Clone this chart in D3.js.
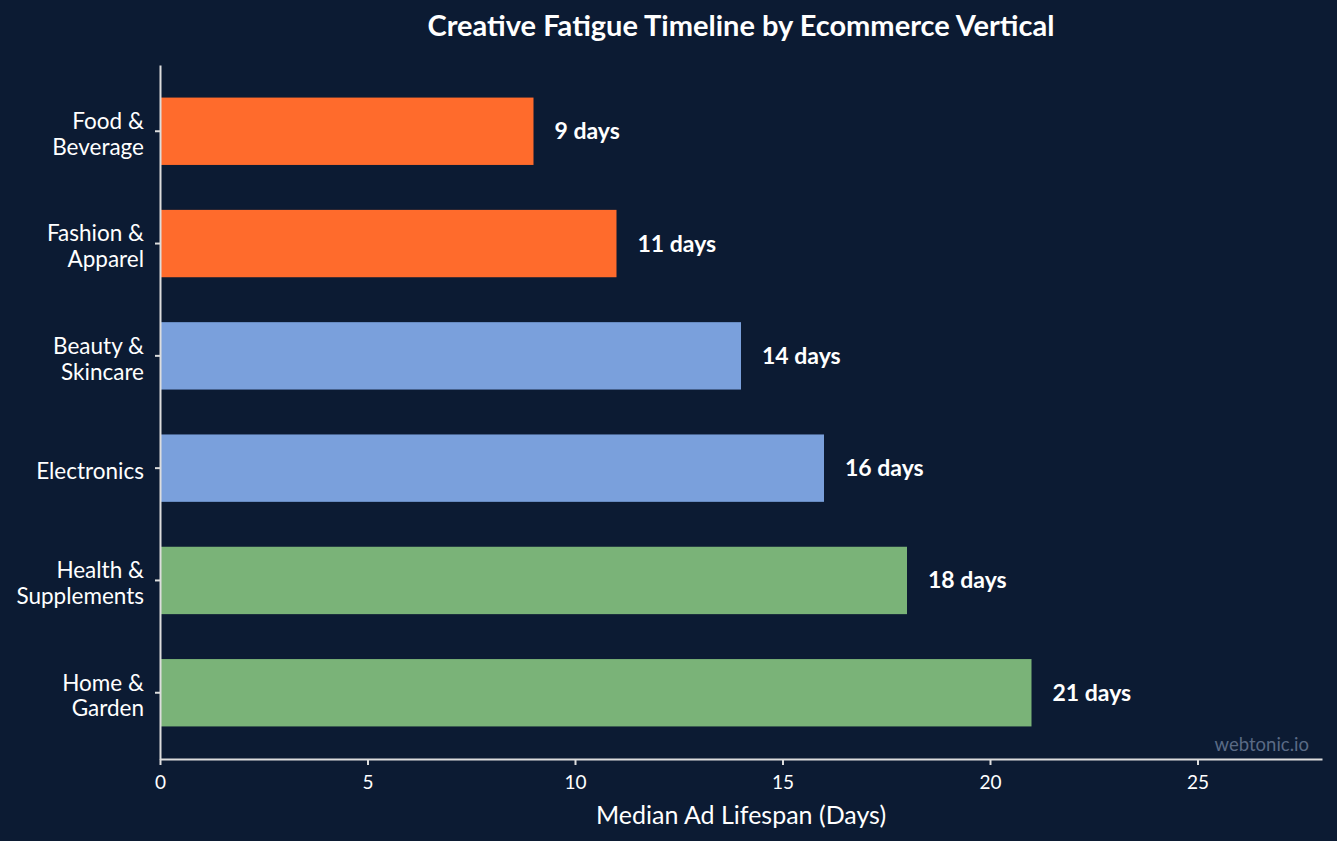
<!DOCTYPE html>
<html><head><meta charset="utf-8">
<script src="https://cdn.jsdelivr.net/npm/d3@7"></script>
<style>
html,body{margin:0;padding:0;background:#0c1b33;}
svg{display:block;font-family:Lato,"Open Sans",sans-serif;}
</style></head><body>
<svg id="c" width="1337" height="841"></svg>
<script>
const categories = ["Food & Beverage","Fashion & Apparel","Beauty & Skincare","Electronics","Health & Supplements","Home & Garden"];
const categoryLines = [["Food &","Beverage"],["Fashion &","Apparel"],["Beauty &","Skincare"],["Electronics"],["Health &","Supplements"],["Home &","Garden"]];
const values = [9, 11, 14, 16, 18, 21];
const groups = ["fast","fast","mid","mid","slow","slow"];
const xTicks = [0, 5, 10, 15, 20, 25];
const groupColors = {fast:"#ff6b2c", mid:"#7aa0dc", slow:"#7ab378"};

const svg = d3.select("#c");
svg.append("rect").attr("width",1337).attr("height",841).attr("fill","#0c1b33");
const x = d3.scaleLinear().domain([0,28]).range([160,1322]);
const y = d3.scaleBand().domain(categories).range([65,759]).paddingInner(0.4).paddingOuter(0.29);
const axisColor = "#dddddd";

svg.append("g").selectAll("rect").data(categories).join("rect")
  .attr("x", x(0)).attr("y", d=>y(d)).attr("height", y.bandwidth())
  .attr("width", (d,i)=>x(values[i])-x(0)).attr("fill",(d,i)=>groupColors[groups[i]]);

svg.append("g").selectAll("text").data(categories).join("text")
  .attr("x",(d,i)=>x(values[i])+21).attr("y",d=>y(d)+y.bandwidth()/2)
  .attr("dy","0.35em").attr("fill","#ffffff").attr("font-weight","bold").attr("font-size",23)
  .text((d,i)=>values[i]+" days");

// x axis
const gx = svg.append("g").attr("transform","translate(0,759)")
  .call(d3.axisBottom(x).tickValues(xTicks).tickSize(6).tickSizeOuter(0).tickPadding(11));
gx.select(".domain").attr("stroke",axisColor).attr("stroke-width",2);
gx.selectAll(".tick line").attr("stroke",axisColor).attr("stroke-width",2);
gx.selectAll(".tick text").attr("fill","#ffffff").attr("font-size",19).attr("font-family","Lato");

// y axis
const gy = svg.append("g").attr("transform","translate(160,0)")
  .call(d3.axisLeft(y).tickSize(5).tickSizeOuter(0).tickFormat(""));
gy.select(".domain").attr("stroke",axisColor).attr("stroke-width",2);
gy.selectAll(".tick line").attr("stroke",axisColor).attr("stroke-width",2);

const lbl = svg.append("g").selectAll("text").data(categories).join("text")
  .attr("x",144).attr("text-anchor","end").attr("fill","#ffffff").attr("font-size",22.5)
  .attr("y",d=>y(d)+y.bandwidth()/2);
lbl.each(function(d,i){
  const lines = categoryLines[i];
  const n = lines.length;
  d3.select(this).selectAll("tspan").data(lines).join("tspan")
    .attr("x",144).attr("dy",(l,j)=> j===0 ? ((0.48 - (n-1)*1.15/2)+"em") : "1.15em").text(l=>l);
});

svg.append("text").attr("x",741).attr("y",36).attr("text-anchor","middle")
  .attr("fill","#ffffff").attr("font-weight","bold").attr("font-size",29)
  .text("Creative Fatigue Timeline by Ecommerce Vertical");

svg.append("text").attr("x",741).attr("y",824).attr("text-anchor","middle")
  .attr("fill","#ffffff").attr("font-size",25).text("Median Ad Lifespan (Days)");

svg.append("text").attr("x",1309).attr("y",751).attr("text-anchor","end")
  .attr("fill","#5a6a85").attr("font-size",18.5).text("webtonic.io");
</script>
</body></html>
